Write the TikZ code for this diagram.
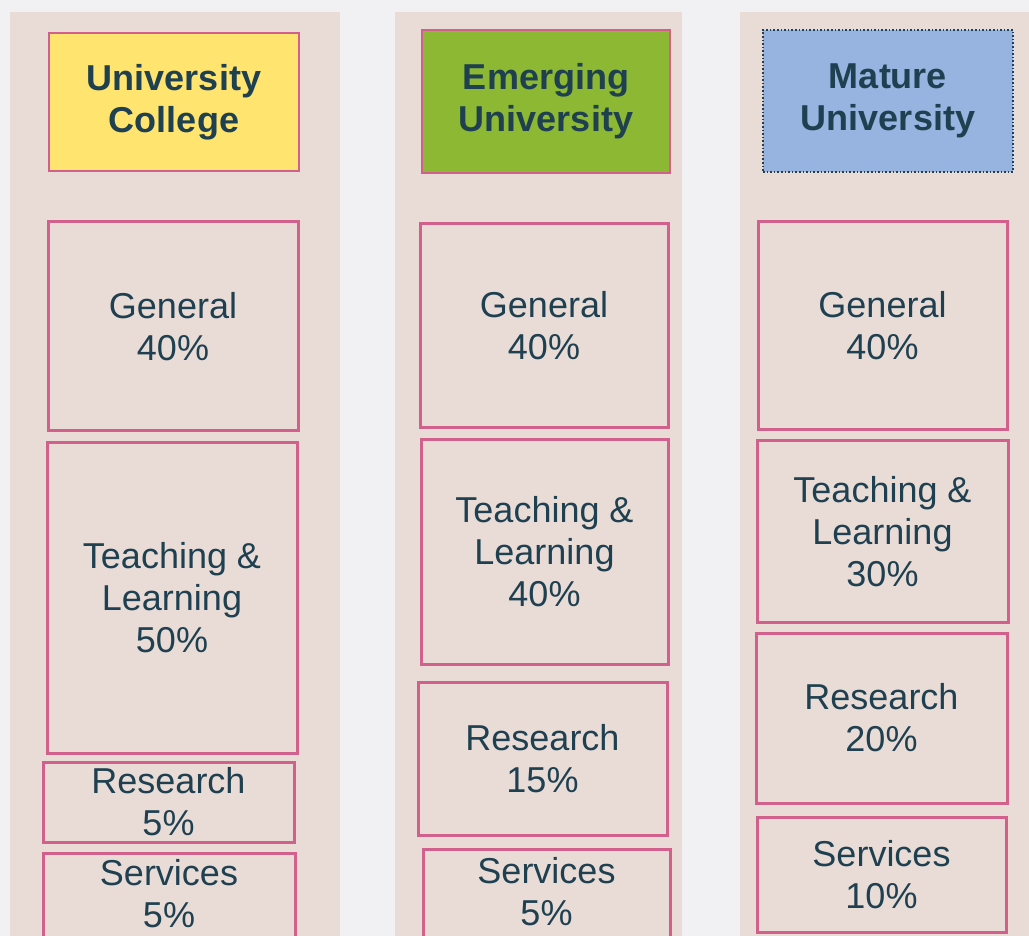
\documentclass[tikz,border=0pt]{standalone}
\usepackage{fontspec}
\setmainfont{Liberation Sans}
\usepackage{tikz}

\definecolor{pagebg}{HTML}{F1F1F4}
\definecolor{panel}{HTML}{E9DCD7}
\definecolor{rim}{HTML}{D2608C}
\definecolor{ink}{HTML}{1F4050}
\definecolor{ucyellow}{HTML}{FFE46F}
\definecolor{eugreen}{HTML}{8CB833}
\definecolor{mublue}{HTML}{97B4E0}

\tikzset{
  box size/.style 2 args={minimum width=#1*0.5pt, minimum height=#2*0.5pt},
  part/.style={draw=rim, line width=1.5pt, fill=panel, text=ink, align=center,
    inner sep=0pt, font=\fontsize{18}{21}\selectfont},
  head/.style={part, line width=0.8pt, font=\fontsize{18}{21}\selectfont\bfseries}
}

\begin{document}
\begin{tikzpicture}[x=0.5pt, y=-0.5pt]
  \useasboundingbox (0,0) rectangle (1029,936);
  \clip (0,0) rectangle (1029,936);
  \fill[pagebg] (0,0) rectangle (1029,936);

  % the three columns
  \foreach \l/\r in {10/340, 395/682, 740/1029} {\fill[panel] (\l,12) rectangle (\r,940);};

  % University College
  \node[head, fill=ucyellow, box size={250}{138}] (uc-head)  at (174,102)   {University\\College};
  \node[part, box size={250}{209}]                (uc-gen)   at (173,326.5) {General\\40\%};
  \node[part, box size={250}{310}]                (uc-teach) at (172,598)   {Teaching \&\\Learning\\50\%};
  \node[part, box size={251}{80}]                 (uc-res)   at (168.5,802) {Research\\5\%};
  \node[part, box size={252}{90}, text depth=5pt] (uc-serv)  at (169,898)   {Services\\5\%};

  % Emerging University
  \node[head, fill=eugreen, box size={248}{143}]  (eu-head)  at (546,101.5) {Emerging\\University};
  \node[part, box size={248}{204}]                (eu-gen)   at (544,326)   {General\\40\%};
  \node[part, box size={247}{224}]                (eu-teach) at (544.5,552) {Teaching \&\\Learning\\40\%};
  \node[part, box size={249}{153}]                (eu-res)   at (542.5,758.5) {Research\\15\%};
  \node[part, box size={247}{94}, text depth=5pt] (eu-serv)  at (546.5,896) {Services\\5\%};

  % Mature University
  \node[head, draw=ink, densely dotted, fill=mublue, box size={250}{142}] (mu-head) at (888,101) {Mature\\University};
  \node[part, box size={249}{208}]                (mu-gen)   at (882.5,326) {General\\40\%};
  \node[part, box size={251}{181}]                (mu-teach) at (882.5,531.5) {Teaching \&\\Learning\\30\%};
  \node[part, box size={251}{170}]                (mu-res)   at (881.5,718) {Research\\20\%};
  \node[part, box size={249}{115}]                (mu-serv)  at (881.5,874.5) {Services\\10\%};
\end{tikzpicture}
\end{document}
